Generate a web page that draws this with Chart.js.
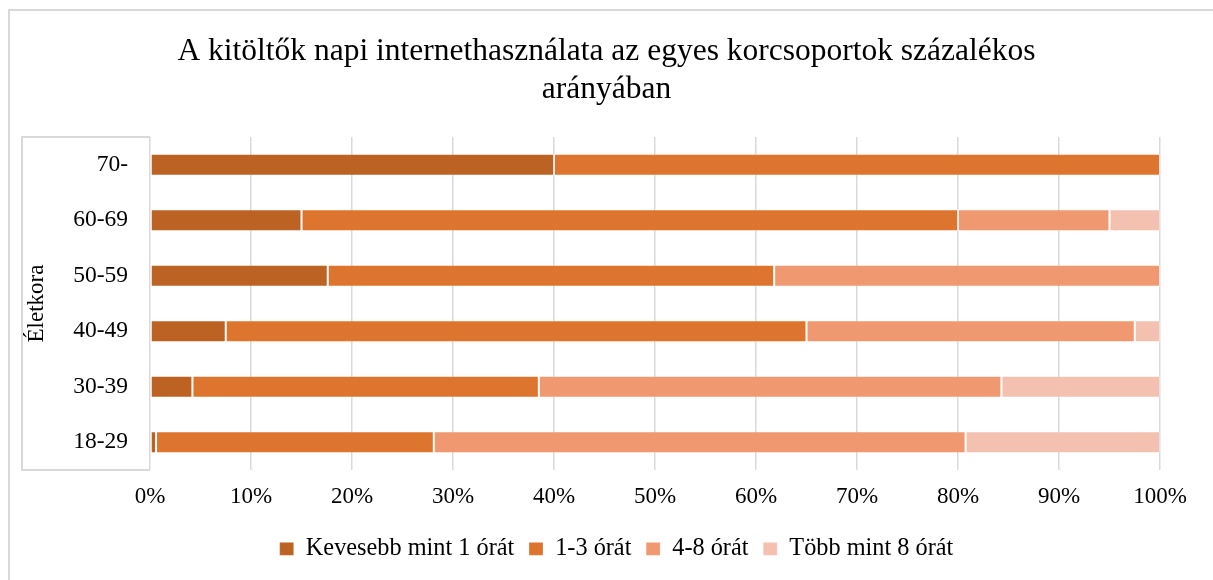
<!DOCTYPE html>
<html>
<head>
<meta charset="utf-8">
<script src="https://cdn.jsdelivr.net/npm/chart.js@4/dist/chart.umd.min.js"></script>
<style>
  html, body { margin: 0; padding: 0; background: #ffffff; }
  #wrap { position: relative; width: 1213px; height: 580px; }
</style>
</head>
<body>
<div id="wrap"><canvas id="c" width="1213" height="580"></canvas></div>
<script>
const categories = ['70-', '60-69', '50-59', '40-49', '30-39', '18-29'];
const seriesNames = ['Kevesebb mint 1 órát', '1-3 órát', '4-8 órát', 'Több mint 8 órát'];
const lessThan1 = [40, 15, 17.6, 7.5, 4.2, 0.6];
const from1to3 = [60, 65, 44.2, 57.5, 34.3, 27.5];
const from4to8 = [0, 15, 38.2, 32.5, 45.8, 52.65];
const moreThan8 = [0, 5, 0, 2.5, 15.7, 19.25];
const xTicks = [0, 10, 20, 30, 40, 50, 60, 70, 80, 90, 100];
const titleLines = ['A kitöltők napi internethasználata az egyes korcsoportok százalékos', 'arányában'];
const yTitle = 'Életkora';

const colors = ['#BC6223', '#DE752E', '#F09970', '#F4C1B1'];
const serif = "'Liberation Serif', 'Times New Roman', serif";

const decorPlugin = {
  id: 'decor',
  afterLayout(chart) {
    if (chart.legend) {
      chart.legend.left += 10;
      chart.legend.right += 10;
    }
  },
  beforeDraw(chart) {
    const ctx = chart.ctx;
    const a = chart.chartArea;
    ctx.save();
    ctx.fillStyle = '#ffffff';
    ctx.fillRect(0, 0, chart.width, chart.height);
    ctx.strokeStyle = '#d9d9d9';
    ctx.lineWidth = 2;
    ctx.strokeRect(9, 10, chart.width + 20, chart.height + 20);
    ctx.beginPath();
    ctx.moveTo(a.left, a.top);
    ctx.lineTo(22, a.top);
    ctx.lineTo(22, a.bottom);
    ctx.lineTo(a.left, a.bottom);
    ctx.stroke();
    ctx.restore();
  }
};

const datasets = [lessThan1, from1to3, from4to8, moreThan8].map((d, i) => ({
  label: seriesNames[i],
  data: d,
  backgroundColor: colors[i],
  borderColor: 'rgba(255,255,255,0.25)',
  borderWidth: 1,
  borderSkipped: false,
  barPercentage: 0.4,
  categoryPercentage: 1.0
}));

new Chart(document.getElementById('c'), {
  type: 'bar',
  data: { labels: categories, datasets },
  plugins: [decorPlugin],
  options: {
    indexAxis: 'y',
    responsive: false,
    animation: false,
    layout: { padding: { left: 0, right: 0, top: 0, bottom: 9 } },
    plugins: {
      title: {
        display: true,
        text: titleLines,
        color: '#000000',
        font: { family: serif, size: 31.5, weight: 'normal', lineHeight: 1.2 },
        padding: { top: 33, bottom: 28.4 }
      },
      legend: {
        display: true,
        position: 'bottom',
        labels: {
          color: '#000000',
          font: { family: serif, size: 24.3 },
          boxWidth: 14,
          boxHeight: 13,
          padding: 14.7
        }
      },
      tooltip: { enabled: false }
    },
    scales: {
      x: {
        stacked: true,
        min: 0,
        max: 100,
        afterBuildTicks(scale) { scale.ticks = xTicks.map(v => ({ value: v })); },
        afterFit(scale) { scale.height = 52; },
        border: { display: false },
        grid: { color: '#d9d9d9', lineWidth: 1.5, drawTicks: false },
        ticks: {
          color: '#000000',
          font: { family: serif, size: 23 },
          padding: 13,
          maxRotation: 0,
          callback: v => v + '%'
        }
      },
      y: {
        stacked: true,
        afterFit(scale) { scale.width = 150; },
        border: { display: false },
        grid: { display: false, drawTicks: false },
        ticks: {
          color: '#000000',
          font: { family: serif, size: 23.5 },
          padding: 22
        },
        title: {
          display: true,
          text: yTitle,
          color: '#000000',
          font: { family: serif, size: 23, lineHeight: 1.2 },
          padding: { top: 23, bottom: 0 }
        }
      },
      yRightSpace: {
        type: 'category',
        position: 'right',
        afterFit(scale) { scale.width = 53; },
        border: { display: false },
        grid: { display: false, drawTicks: false },
        ticks: { display: false }
      }
    }
  }
});
</script>
</body>
</html>
